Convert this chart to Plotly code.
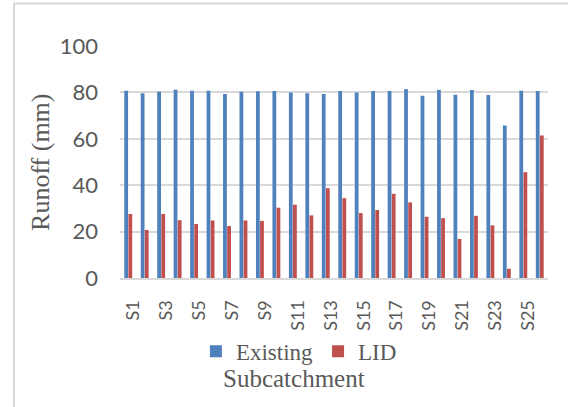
import plotly.graph_objects as go

# Runoff per subcatchment, existing conditions vs. with LID controls
categories = ["S1", "S2", "S3", "S4", "S5", "S6", "S7", "S8", "S9", "S10",
              "S11", "S12", "S13", "S14", "S15", "S16", "S17", "S18", "S19",
              "S20", "S21", "S22", "S23", "S24", "S25", "S26"]
existing = [80.7, 79.6, 80.3, 81.1, 80.7, 80.7, 79.3, 80.3, 80.5, 80.6,
            80.0, 79.6, 79.3, 80.6, 80.0, 80.6, 80.6, 81.4, 78.6, 81.1,
            79.0, 81.0, 78.9, 65.7, 80.7, 80.6]
lid = [27.6, 20.7, 27.6, 24.9, 23.3, 24.8, 22.4, 24.8, 24.6, 30.3,
       31.6, 27.0, 38.7, 34.4, 28.0, 29.3, 36.3, 32.6, 26.4, 25.8,
       16.8, 26.8, 22.7, 4.0, 45.6, 61.4]
tick_labels = categories[::2]
y_ticks = [0, 20, 40, 60, 80, 100]

BLUE = "#4F81BD"
RED = "#C0504D"
TEXT = "#595959"
GRID = "#D9D9D9"
SERIF = "Liberation Serif, Times New Roman, serif"
SANS = "Lato, Open Sans, sans-serif"

fig = go.Figure()
fig.add_trace(go.Bar(x=categories, y=existing, name="Existing",
                     marker=dict(color=BLUE, line=dict(width=0))))
fig.add_trace(go.Bar(x=categories, y=lid, name="LID",
                     marker=dict(color=RED, line=dict(width=0))))

fig.update_layout(
    width=568, height=407, autosize=False,
    margin=dict(l=120, r=20, t=46, b=129, pad=0),
    paper_bgcolor="white", plot_bgcolor="white",
    barmode="group", bargap=0.5, bargroupgap=0.08,
    showlegend=True,
    legend=dict(orientation="h", x=0.418, xanchor="center",
                y=-0.316, yanchor="middle",
                font=dict(family=SERIF, size=23, color=TEXT),
                itemwidth=30, tracegroupgap=0,
                bgcolor="rgba(0,0,0,0)"),
    xaxis=dict(
        type="category",
        tickmode="array", tickvals=tick_labels, ticktext=tick_labels,
        tickangle=-90, ticklabelstandoff=13, ticklabelshift=5,
        tickfont=dict(family=SANS, size=18, color=TEXT),
        showgrid=False, zeroline=False,
        showline=True, linecolor=GRID, linewidth=2,
        ticks="",
    ),
    yaxis=dict(
        range=[0, 100], tickmode="array", tickvals=y_ticks,
        tickfont=dict(family=SANS, size=22, color=TEXT),
        ticklabelstandoff=21,
        showgrid=True, gridcolor=GRID, gridwidth=2,
        zeroline=False, showline=False, ticks="",
    ),
    annotations=[
        dict(text="Runoff (mm)", textangle=-90, showarrow=False,
             xref="paper", yref="paper", x=-0.187, y=0.5,
             xanchor="center", yanchor="middle",
             font=dict(family=SERIF, size=26, color=TEXT)),
        dict(text="Subcatchment", showarrow=False,
             xref="paper", yref="paper", x=0.406, y=-0.432,
             xanchor="center", yanchor="middle",
             font=dict(family=SERIF, size=25, color=TEXT)),
    ],
    shapes=[
        # chart frame: left and top edges
        dict(type="line", xref="paper", yref="paper",
             x0=-0.2477, x1=-0.2477, y0=-0.6, y1=1.1836,
             line=dict(color=GRID, width=2)),
        dict(type="line", xref="paper", yref="paper",
             x0=-0.2477, x1=1.2, y0=1.1836, y1=1.1836,
             line=dict(color=GRID, width=2)),
    ],
)

fig.write_html("out.html")
